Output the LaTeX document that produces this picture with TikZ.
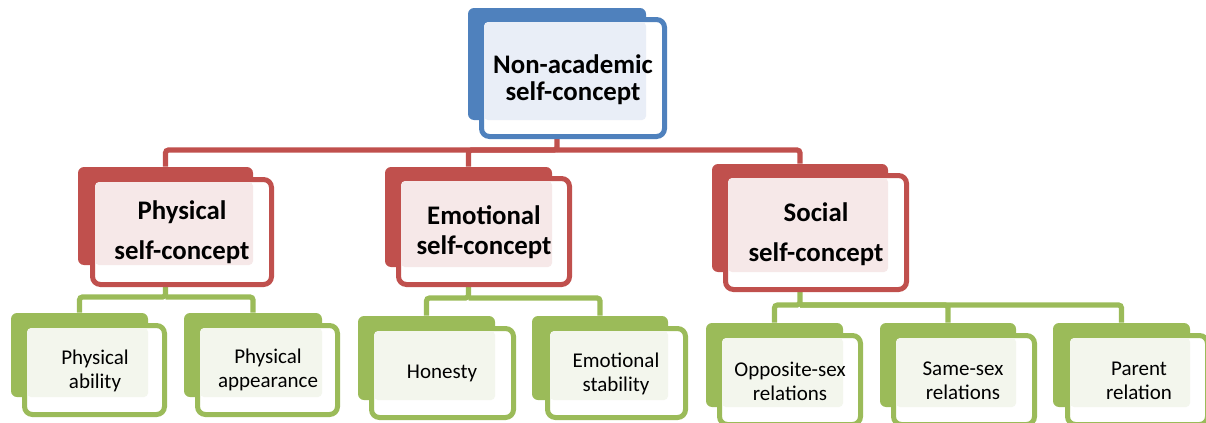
\documentclass[tikz,border=0pt]{standalone}
\usepackage{fontspec}
\setmainfont{Carlito}
\usetikzlibrary{fit,backgrounds}

\definecolor{skyblue}{HTML}{4F81BD}
\definecolor{brick}{HTML}{C0504D}
\definecolor{leaf}{HTML}{9BBB59}
\definecolor{skytint}{HTML}{E9EEF7}
\definecolor{bricktint}{HTML}{F6E8E8}
\definecolor{leaftint}{HTML}{F3F6ED}

\tikzset{
  backbox/.style={rectangle, fill=#1, rounded corners=3pt, inner sep=0pt},
  frontbox/.style={rectangle, draw=#1, fill=white, line width=2.5pt, rounded corners=4pt, inner sep=0pt},
  tintbox/.style={rectangle, fill=#1, rounded corners=2pt, inner sep=0pt},
  bigtext/.style={align=center, font=\fontsize{13.4}{15}\selectfont\bfseries},
  smalltext/.style={align=center, font=\fontsize{10.5}{12}\selectfont},
  link/.style={draw=#1, line width=2.6pt, rounded corners=1.5pt}
}

\begin{document}
\begin{tikzpicture}[x=0.5pt,y=-0.5pt]
        \useasboundingbox (0,0) rectangle (1206,423);

        % top box
        \node[backbox=skyblue, fit={(468,8) (646,120)}] (nonacadB) {};
        \node[frontbox=skyblue, fit={(481.5,19.5) (664.5,136.5)}] (nonacadF) {};
        \node[tintbox=skytint, fit={(484,22) (646,120)}] (nonacadT) {};
        \node[bigtext] (nonacad) at (573,80) {Non-academic\\[-1.5pt]self-concept};

        % second row
        \node[backbox=brick, fit={(78,167) (253,265)}] (physB) {};
        \node[frontbox=brick, fit={(92.5,179.5) (271.5,284.5)}] (physF) {};
        \node[tintbox=bricktint, fit={(95,182) (253,265)}] (physT) {};
        \node[bigtext] (phys) at (182,232) {Physical\\[5pt]self-concept};

        \node[backbox=brick, fit={(385,167) (552,267)}] (emoB) {};
        \node[frontbox=brick, fit={(398.5,178.5) (569.5,284.5)}] (emoF) {};
        \node[tintbox=bricktint, fit={(401,181) (552,267)}] (emoT) {};
        \node[bigtext] (emo) at (484,232) {Emotional\\self-concept};

        \node[backbox=brick, fit={(712,164) (888,272)}] (socB) {};
        \node[frontbox=brick, fit={(725.5,175.5) (906.5,289.5)}] (socF) {};
        \node[tintbox=bricktint, fit={(728,178) (888,272)}] (socT) {};
        \node[bigtext] (soc) at (816,234) {Social\\[5pt]self-concept};

        % third row
        \node[backbox=leaf, fit={(11,313) (148,397)}] (abilityB) {};
        \node[frontbox=leaf, fit={(24.5,325.5) (164.5,414.5)}] (abilityF) {};
        \node[tintbox=leaftint, fit={(27,328) (148,397)}] (abilityT) {};
        \node[smalltext] (ability) at (95,370.5) {Physical\\ability};

        \node[backbox=leaf, fit={(184,313) (322,397)}] (appearB) {};
        \node[frontbox=leaf, fit={(197.5,325.5) (337.5,414.5)}] (appearF) {};
        \node[tintbox=leaftint, fit={(200,328) (322,397)}] (appearT) {};
        \node[smalltext] (appear) at (268,370) {Physical\\appearance};

        \node[backbox=leaf, fit={(358,316) (495,400)}] (honestyB) {};
        \node[frontbox=leaf, fit={(371.5,328.5) (513.5,417.5)}] (honestyF) {};
        \node[tintbox=leaftint, fit={(374,331) (495,400)}] (honestyT) {};
        \node[smalltext] (honesty) at (442,373.5) {Honesty};

        \node[backbox=leaf, fit={(532,316) (668,400)}] (stabB) {};
        \node[frontbox=leaf, fit={(547.5,328.5) (685.5,417.5)}] (stabF) {};
        \node[tintbox=leaftint, fit={(550,331) (668,400)}] (stabT) {};
        \node[smalltext] (stab) at (616,373.5) {Emotional\\stability};

        \node[backbox=leaf, fit={(706,323) (843,407)}] (oppB) {};
        \node[frontbox=leaf, fit={(719.5,335.5) (860.5,424.5)}] (oppF) {};
        \node[tintbox=leaftint, fit={(722,338) (843,407)}] (oppT) {};
        \node[smalltext] (opp) at (790,381) {Opposite-sex\\relations};

        \node[backbox=leaf, fit={(880,323) (1016,407)}] (sameB) {};
        \node[frontbox=leaf, fit={(893.5,335.5) (1034.5,424.5)}] (sameF) {};
        \node[tintbox=leaftint, fit={(896,338) (1016,407)}] (sameT) {};
        \node[smalltext] (same) at (963,381) {Same-sex\\relations};

        \node[backbox=leaf, fit={(1053,323) (1190,407)}] (parentB) {};
        \node[frontbox=leaf, fit={(1067.5,335.5) (1207.5,424.5)}] (parentF) {};
        \node[tintbox=leaftint, fit={(1070,338) (1190,407)}] (parentT) {};
        \node[smalltext] (parent) at (1139,381) {Parent\\relation};

        % connectors behind the boxes
        \begin{pgfonlayer}{background}
        \coordinate (redbus) at (557,150);
        \draw[link=brick] (nonacadB.south) -- (redbus) -| (physB.north);
        \draw[link=brick] (redbus) -| (emoB.north);
        \draw[link=brick] (redbus) -| (socB.north);

        \coordinate (physbus) at (165.5,297);
        \draw[link=leaf] (physB.south) -- (physbus) -| (abilityB.north);
        \draw[link=leaf] (physbus) -| (appearB.north);

        \coordinate (emobus) at (468.5,298);
        \draw[link=leaf] (emoB.south) -- (emobus) -| (honestyB.north);
        \draw[link=leaf] (emobus) -| (stabB.north);

        \coordinate (socbus) at (800,305);
        \draw[link=leaf] (socB.south) -- (socbus) -| (oppB.north);
        \draw[link=leaf] (socbus) -| (sameB.north);
        \draw[link=leaf] (socbus) -| (parentB.north);
        \end{pgfonlayer}

    \end{tikzpicture}
\end{document}
